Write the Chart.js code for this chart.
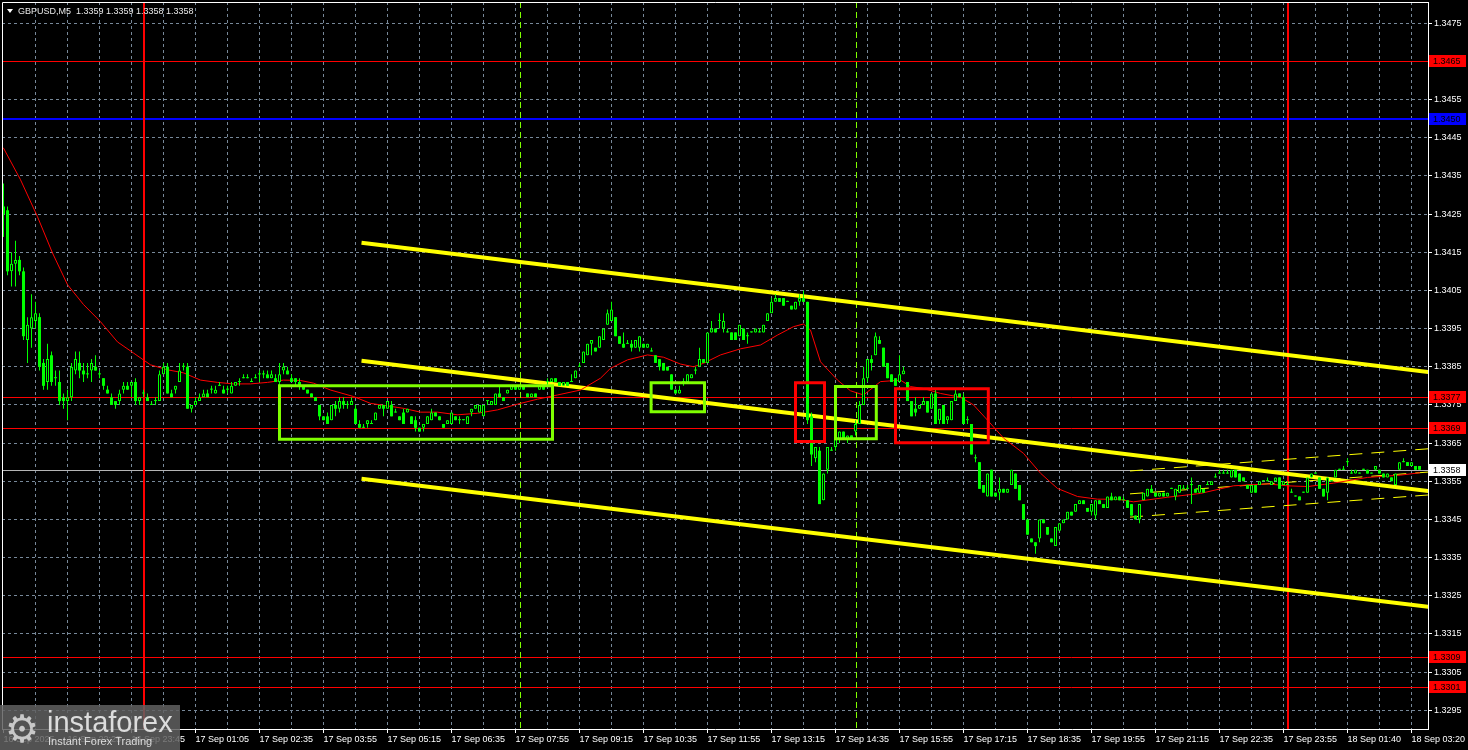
<!DOCTYPE html>
<html>
<head>
<meta charset="utf-8">
<title>GBPUSD,M5</title>
<script src="https://cdn.jsdelivr.net/npm/chart.js@4.4.1/dist/chart.umd.min.js"></script>
<style>
  html, body { margin: 0; padding: 0; background: #000; overflow: hidden; }
  #wrap { width: 1468px; height: 750px; }
</style>
</head>
<body>
<div id="wrap"><canvas id="chart" width="1468" height="750"></canvas></div>
<script>
// GBPUSD M5, 16 Sep evening to 18 Sep 03:20

// price axis labels
const yTicks = [1.3295, 1.3305, 1.3315, 1.3325, 1.3335, 1.3345, 1.3355, 1.3365, 1.3375,
  1.3385, 1.3395, 1.3405, 1.3415, 1.3425, 1.3435, 1.3445, 1.3455, 1.3465, 1.3475];

// time labels, one every 16 bars starting at bar 0
const timeLabels = ['16 Sep 2025', '16 Sep 22:25', '16 Sep 23:45', '17 Sep 01:05', '17 Sep 02:35',
  '17 Sep 03:55', '17 Sep 05:15', '17 Sep 06:35', '17 Sep 07:55', '17 Sep 09:15', '17 Sep 10:35',
  '17 Sep 11:55', '17 Sep 13:15', '17 Sep 14:35', '17 Sep 15:55', '17 Sep 17:15', '17 Sep 18:35',
  '17 Sep 19:55', '17 Sep 21:15', '17 Sep 22:35', '17 Sep 23:55', '18 Sep 01:40', '18 Sep 03:20'];

// candles [open, high, low, close] in pips above 1.3300
const pipBase = 1.33;
const pip = 0.0001;
const candles = [
  [127,133,119,125],[126,127,109,110],[110,115,106,112],[112,118,106,113],[113,114,109,110],[110,111,92,93],[92,98,86,96],[95,104,90,98],
  [97,102,95,99],[98,99,84,85],[86,87,79,80],[81,91,79,87],[88,89,80,81],[82,84,80,82],[81,84,75,76],[77,78,74,76],
  [76,79,71,77],[77,86,76,85],[84,89,83,87],[86,89,82,84],[84,86,81,83],[83,86,82,83],[84,87,81,86],[85,88,84,84],
  [83,84,82,83],[82,82,79,80],[79,80,78,78],[77,78,75,75],[76,76,74,75],[76,79,75,78],[79,81,78,80],[80,81,79,79],
  [80,81,77,81],[81,82,75,76],[76,77,75,77],[78,79,77,78],[77,78,76,76],[75,76,75,75],[76,77,75,76],[76,84,76,83],
  [83,86,83,85],[85,86,78,78],[78,79,77,77],[79,80,78,80],[81,86,81,84],[85,86,84,85],[85,86,74,74],[74,75,73,75],
  [75,77,75,76],[76,78,76,77],[77,79,77,78],[78,79,77,77],[79,80,78,79],[78,80,78,79],[80,81,80,80],[79,80,78,78],
  [79,80,78,79],[78,81,78,80],[80,81,80,81],[81,82,80,81],[82,83,82,82],[82,83,82,82],[81,82,81,81],[82,83,82,82],
  [83,84,81,83],[83,84,82,83],[83,84,82,82],[82,84,82,83],[82,83,81,81],[81,86,80,83],[84,86,83,85],[84,85,83,83],
  [82,83,81,81],[82,82,80,81],[81,82,79,80],[80,80,79,79],[79,79,78,78],[78,78,77,77],[77,77,76,76],[75,75,71,72],
  [72,72,71,71],[72,73,70,70],[71,75,71,75],[75,76,72,74],[74,77,73,76],[76,77,74,75],[75,76,74,75],[75,77,75,76],
  [74,75,70,70],[70,71,69,69],[69,70,69,69],[70,71,69,71],[70,71,70,70],[71,73,71,73],[74,75,74,75],[75,75,72,74],
  [74,76,74,76],[75,76,72,72],[73,74,73,73],[72,72,71,71],[73,74,70,70],[73,74,73,74],[72,72,70,70],[71,72,68,69],
  [69,69,68,68],[69,70,68,70],[70,72,70,72],[71,74,71,73],[73,73,72,72],[72,72,71,71],[70,70,69,69],[70,71,70,71],
  [70,73,70,73],[72,72,71,71],[71,72,70,71],[71,71,71,71],[70,72,70,72],[73,74,72,74],[74,75,74,75],[73,75,73,75],
  [72,75,72,75],[76,76,75,76],[75,76,75,76],[75,78,75,78],[78,80,77,77],[77,77,76,76],[78,79,78,79],[79,80,79,80],
  [80,80,79,79],[79,80,79,80],[80,80,79,79],[78,78,77,77],[77,78,77,78],[78,78,77,77],[79,80,79,80],[80,80,79,79],
  [81,82,80,81],[81,82,81,82],[82,82,81,81],[81,81,80,80],[80,81,80,81],[81,81,80,80],[81,83,81,81],[82,84,82,84],
  [85,86,85,85],[86,89,86,89],[88,91,88,91],[91,92,88,92],[90,90,89,89],[90,93,90,93],[92,95,92,95],[96,100,96,99],
  [97,102,97,100],[98,98,93,93],[93,93,91,91],[91,94,90,90],[91,92,91,91],[91,92,89,90],[90,92,90,92],[90,93,89,93],
  [91,91,90,90],[90,91,90,91],[89,90,89,89],[88,88,86,86],[87,87,84,85],[86,86,84,84],[85,85,84,84],[83,83,79,79],
  [79,79,78,78],[78,80,78,79],[81,82,80,81],[81,83,81,83],[82,83,82,83],[84,85,83,84],[85,90,85,87],[87,87,86,86],
  [86,94,86,94],[94,97,94,95],[95,95,94,94],[97,99,95,97],[95,99,94,97],[94,95,94,94],[94,94,92,92],[94,94,92,92],
  [93,96,93,96],[95,95,92,92],[93,94,91,93],[94,94,94,94],[94,95,94,95],[94,95,94,94],[94,96,94,96],[97,99,97,99],
  [99,103,99,102],[102,104,102,103],[103,103,102,102],[103,103,101,101],[102,102,102,102],[101,101,100,100],[100,102,100,102],[102,104,101,103],
  [103,105,102,102],[102,102,70,71],[72,73,59,62],[61,64,60,64],[63,64,49,49],[50,57,50,57],[58,64,57,64],[63,64,63,63],
  [64,66,63,66],[66,68,65,68],[68,68,66,66],[66,67,65,67],[67,67,66,66],[68,71,67,70],[70,76,70,75],[75,85,75,82],
  [82,87,81,87],[87,88,84,86],[88,94,88,93],[92,93,91,91],[90,90,85,85],[86,86,82,82],[83,83,81,81],[82,82,80,80],
  [81,88,81,83],[83,85,83,84],[81,81,76,76],[76,76,72,72],[74,77,72,73],[74,75,74,75],[75,77,75,76],[76,76,73,73],
  [74,78,74,78],[78,79,70,70],[71,74,70,74],[75,75,70,70],[71,72,70,72],[71,76,71,76],[76,79,76,78],[78,78,77,77],
  [77,78,70,70],[71,72,70,71],[70,70,62,62],[61,62,60,61],[60,60,53,53],[54,54,52,52],[51,57,51,57],[58,58,51,51],
  [52,52,51,51],[52,56,50,53],[53,53,52,52],[52,53,52,53],[54,58,54,58],[57,57,53,53],[54,54,50,50],[49,49,45,45],
  [45,45,41,41],[40,40,39,39],[39,39,36,38],[40,45,39,45],[45,45,44,44],[43,43,41,41],[40,40,39,39],[38,43,38,43],
  [42,44,42,44],[44,45,44,45],[45,47,45,47],[47,47,46,46],[47,49,47,49],[49,50,49,50],[50,50,49,49],[48,48,47,47],
  [47,49,46,49],[46,50,45,50],[50,50,49,49],[49,49,48,48],[48,51,48,51],[51,52,50,50],[50,51,50,51],[51,51,50,50],
  [50,51,50,50],[50,50,48,48],[49,49,46,46],[46,46,45,45],[45,49,44,49],[50,52,50,52],[51,53,51,53],[53,54,52,52],
  [52,52,51,51],[51,52,51,52],[52,52,51,51],[51,52,51,52],[53,53,53,53],[51,53,50,53],[52,54,52,54],[53,54,53,53],
  [53,54,53,53],[54,56,49,54],[53,53,52,52],[52,54,52,54],[53,53,52,52],[54,55,54,54],[54,55,54,55],[56,57,56,56],
  [57,58,57,57],[57,58,57,57],[57,58,57,57],[56,58,56,58],[58,58,56,56],[57,57,55,55],[56,56,55,55],[54,54,53,53],
  [52,54,52,54],[54,54,52,52],[54,55,54,55],[55,55,55,55],[55,56,55,55],[54,55,54,55],[55,56,55,56],[56,56,53,53],
  [54,55,54,55],[54,55,54,54],[52,53,52,52],[51,51,51,51],[51,51,50,50],[52,52,52,52],[52,56,52,56],[56,57,56,57],
  [57,57,57,57],[56,56,53,53],[53,53,51,51],[52,56,50,56],[55,55,55,55],[56,58,56,58],[58,58,58,58],[58,59,58,58],
  [60,61,59,60],[57,58,57,57],[57,58,57,58],[57,57,57,57],[58,58,58,58],[58,58,57,57],[57,57,57,57],[58,59,58,59],
  [58,58,57,57],[57,57,56,56],[56,57,56,57],[56,56,55,55],[54,57,54,57],[58,60,58,60],[60,61,60,60],[60,60,59,59],
  [59,60,59,60],[59,59,58,58],[59,59,58,58]
];

// moving average: [bar, pips]
const maLine = [[0,142.3],[4.25,134],[8.5,124.3],[12.25,114.8],[16,106.5],[20,101.3],[24.25,96.8],[28.5,91.5],
  [32.5,88.6],[36.75,85.5],[41,84.2],[45,83.4],[49.25,81.5],[53.5,80.9],[57.5,80.5],[61.75,80.5],[66,80.9],
  [70,81.5],[74.25,81.4],[77.5,80.7],[81.75,78.9],[87.5,77.2],[91.75,75.4],[100,74.1],[104.25,73.1],[108.5,73.1],
  [113.5,72.4],[118.5,72.8],[123.5,73.7],[128.5,75.2],[133.5,76.5],[138.5,77.6],[144.25,78.9],[149.25,82.0],
  [151.75,84.6],[156,86.8],[161,88.1],[165,87.5],[169.25,85.7],[172.5,85.0],[175,85.9],[179.25,88.1],[184.25,89.7],
  [189.25,90.7],[193.5,93.3],[197.5,95.5],[200,96.2],[201.75,94.6],[204.25,86.3],[208.5,81.5],[211.75,78.7],
  [215,77.6],[219.25,81.1],[224.25,81.5],[226.75,79.8],[230,79.3],[234.25,78.0],[239.25,77.0],[242.5,75.0],
  [246,71.0],[250,66.3],[255,62.3],[259.25,57.1],[263.5,53.1],[268.5,51.0],[273.5,50.3],[278.5,50.3],[282.5,49.6],
  [291,50.8],[299.25,51.8],[307.5,53.8],[316,54.3],[321,53.8],[326,53.6],[332.5,54.5],[341,56.0],[349.25,56.6],[354,57.2]];

// regression channel (thick) and small channel (thin), [bar, pips] end points
const channelTop = [[90,117.4],[356.2,83.6]];
const channelMid = [[90,86.5],[356.2,52.4]];
const channelBot = [[90,55.6],[356.2,22.1]];
const smallTop = [[281.75,57.7],[356.2,63.5]];
const smallMid = [[281.75,51.7],[356.2,57.4]];
const smallBot = [[281.75,45.6],[356.2,51.4]];

// signal boxes: bar range and pip range
const boxBars = [[69,137.25],[161.9,175.25],[198,205.25],[208,218.2],[223,246.2]];
const boxPips = [[80.0,66.0],[80.8,73.2],[80.8,65.4],[79.8,66.1],[79.2,65.1]];
const boxKinds = ['buy','buy','sell','buy','sell'];

// horizontal levels and markers
const levels = [1.3465, 1.3450, 1.3377, 1.3369, 1.3309, 1.3301];
const bidPrice = 1.3358;
const dayBreaks = [35, 321];
const newsBars = [129, 213];

const LIME = '#00ff00';
const toPrice = p => +(pipBase + p * pip).toFixed(5);
const toPoints = arr => arr.map(([b, p]) => ({ x: b, y: toPrice(p) }));

const Y_MAX = 1.348058;
const Y_MIN = 1.329007;
const X_MIN = -0.375;
const X_MAX = 356.125;

Chart.defaults.font.family = '"Liberation Sans", Arial, sans-serif';
Chart.defaults.font.size = 9;
Chart.defaults.color = '#ffffff';

function boxPath(k) {
  const [b0, b1] = boxBars[k];
  const [p0, p1] = boxPips[k];
  return [{x: b0, y: toPrice(p0)}, {x: b1, y: toPrice(p0)}, {x: b1, y: toPrice(p1)},
          {x: b0, y: toPrice(p1)}, {x: b0, y: toPrice(p0)}];
}

function lineSet(points, color, width, order, dash) {
  return {
    type: 'line', data: points, borderColor: color, borderWidth: width,
    borderDash: dash || [], pointRadius: 0, tension: 0, order: order, clip: 0,
    borderCapStyle: 'square', borderJoinStyle: 'miter'
  };
}

const datasets = [
  lineSet(toPoints(channelTop), '#ffff00', 4, 10),
  lineSet(toPoints(channelMid), '#ffff00', 4, 10),
  lineSet(toPoints(channelBot), '#ffff00', 4, 10),
  lineSet(toPoints(smallTop), '#ffff00', 1, 10, [12, 10]),
  lineSet(toPoints(smallMid), '#ffff00', 1, 10, [12, 10]),
  lineSet(toPoints(smallBot), '#ffff00', 1, 10, [12, 10]),
  lineSet(toPoints(maLine), '#ff0000', 1, 9),
  {
    type: 'bar', order: 8, grouped: false, barThickness: 1, minBarLength: 1,
    data: candles.map((c, i) => ({ x: i, y: [toPrice(c[2]), toPrice(c[1])] })),
    backgroundColor: LIME, borderWidth: 0, inflateAmount: 0
  },
  {
    type: 'bar', order: 7, grouped: false, barThickness: 3, minBarLength: 1,
    data: candles.map((c, i) => ({ x: i, y: [toPrice(c[0]), toPrice(c[3])] })),
    backgroundColor: candles.map(c => c[3] > c[0] ? '#000000' : LIME),
    borderColor: LIME, borderWidth: candles.map(c => c[3] > c[0] ? 1 : 0),
    borderSkipped: false, inflateAmount: 0
  }
];
boxBars.forEach((b, k) => {
  datasets.push(lineSet(boxPath(k), boxKinds[k] === 'buy' ? '#7fff00' : '#ff0000', 3, 1));
});

function hLine(ctx, a, y, color, width) {
  const yy = width % 2 ? Math.round(y) + 0.5 : Math.round(y);
  ctx.strokeStyle = color; ctx.lineWidth = width;
  ctx.beginPath(); ctx.moveTo(a.left, yy); ctx.lineTo(a.right, yy); ctx.stroke();
}

function priceTag(ctx, a, y, bg, fg, text) {
  const yy = Math.round(y);
  ctx.fillStyle = bg;
  ctx.fillRect(a.right + 1, yy - 6, 37, 12);
  ctx.fillStyle = fg;
  ctx.textAlign = 'left'; ctx.textBaseline = 'middle';
  ctx.fillText(text, a.right + 5, yy + 0.5);
}

const mtPlugin = {
  id: 'mt',
  beforeDatasetsDraw(chart) {
    const {ctx, chartArea: a, scales: {x, y}} = chart;
    ctx.save();
    ctx.beginPath(); ctx.rect(a.left, a.top, a.right - a.left, a.bottom - a.top); ctx.clip();
    hLine(ctx, a, y.getPixelForValue(bidPrice), '#b4b4b4', 1);
    levels.forEach(v => {
      const blue = v === 1.3450;
      hLine(ctx, a, y.getPixelForValue(v), blue ? '#0000ff' : '#ff0000', blue ? 2 : 1);
    });
    // news markers
    ctx.setLineDash([6, 4]);
    ctx.strokeStyle = '#7fff00'; ctx.lineWidth = 1;
    newsBars.forEach(b => {
      const xx = Math.round(x.getPixelForValue(b)) + 0.5;
      ctx.beginPath(); ctx.moveTo(xx, a.top); ctx.lineTo(xx, a.bottom); ctx.stroke();
    });
    ctx.setLineDash([]);
    // day separators
    ctx.strokeStyle = '#ff0000'; ctx.lineWidth = 2;
    dayBreaks.forEach(b => {
      const xx = Math.round(x.getPixelForValue(b));
      ctx.beginPath(); ctx.moveTo(xx, a.top); ctx.lineTo(xx, a.bottom); ctx.stroke();
    });
    ctx.restore();
  },
  afterDraw(chart) {
    const {ctx, chartArea: a, scales: {y}} = chart;
    ctx.save();
    // frame
    ctx.strokeStyle = '#ffffff'; ctx.lineWidth = 1;
    ctx.beginPath();
    ctx.moveTo(a.left + 0.5, a.bottom); ctx.lineTo(a.left + 0.5, a.top + 0.5); ctx.lineTo(a.right, a.top + 0.5);
    ctx.stroke();
    // price tags
    ctx.font = '9px "Liberation Sans", Arial, sans-serif';
    levels.forEach(v => {
      const blue = v === 1.3450;
      priceTag(ctx, a, y.getPixelForValue(v), blue ? '#0000ff' : '#ff0000', '#000000', v.toFixed(4));
    });
    priceTag(ctx, a, y.getPixelForValue(bidPrice), '#ffffff', '#000000', bidPrice.toFixed(4));
    // header
    ctx.fillStyle = '#ffffff';
    ctx.beginPath(); ctx.moveTo(7, 9); ctx.lineTo(13, 9); ctx.lineTo(10, 13); ctx.closePath(); ctx.fill();
    ctx.fillStyle = '#e8e8e8';
    ctx.textAlign = 'left'; ctx.textBaseline = 'middle';
    ctx.fillText('GBPUSD,M5  1.3359 1.3359 1.3358 1.3358', 18, 11.5);
    // watermark
    ctx.fillStyle = 'rgba(96,96,96,0.85)';
    ctx.fillRect(0, 705, 180, 45);
    ctx.fillStyle = '#c8c8c8';
    ctx.font = '38px "DejaVu Sans", sans-serif';
    ctx.textBaseline = 'alphabetic';
    ctx.fillText('\u2699', 5, 742);
    ctx.fillStyle = '#dcdcdc';
    ctx.font = '29px "Liberation Sans", Arial, sans-serif';
    ctx.fillText('instaforex', 47, 732);
    ctx.font = '11px "Liberation Sans", Arial, sans-serif';
    ctx.fillText('Instant Forex Trading', 48, 745);
    ctx.restore();
  }
};

new Chart(document.getElementById('chart'), {
  type: 'bar',
  data: { datasets: datasets },
  plugins: [mtPlugin],
  options: {
    responsive: false,
    animation: false,
    devicePixelRatio: 1,
    layout: { padding: { left: 2, top: 2, right: 0, bottom: 0 } },
    plugins: { legend: { display: false }, tooltip: { enabled: false } },
    scales: {
      x: {
        type: 'linear', min: X_MIN, max: X_MAX, offset: false,
        afterBuildTicks: s => {
          const t = [];
          for (let b = 0; b <= 352; b += 8) t.push({ value: b });
          s.ticks = t;
        },
        afterFit: s => { s.height = 21; s.paddingLeft = 0; s.paddingRight = 0; },
        grid: {
          offset: false, lineWidth: 1, tickLength: 4,
          color: c => (c.tick && c.tick.value === 0) ? 'rgba(0,0,0,0)' : '#778899',
          tickColor: c => (c.tick && c.tick.value % 16 === 0) ? '#ffffff' : 'rgba(0,0,0,0)'
        },
        border: { color: '#ffffff', dash: [3, 3] },
        ticks: {
          autoSkip: false, maxRotation: 0, minRotation: 0, align: 'start', padding: 1, color: '#ffffff',
          callback: v => (v % 16 === 0) ? timeLabels[v / 16] : ''
        }
      },
      y: {
        type: 'linear', position: 'right', min: Y_MIN, max: Y_MAX,
        afterBuildTicks: s => { s.ticks = yTicks.map(v => ({ value: v })); },
        afterFit: s => { s.width = 40; s.paddingTop = 0; s.paddingBottom = 0; },
        grid: { color: '#778899', lineWidth: 1, tickLength: 4, tickColor: '#ffffff' },
        border: { color: '#ffffff', dash: [3, 3] },
        ticks: { padding: 2, color: '#ffffff', callback: v => v.toFixed(4) }
      }
    }
  }
});
</script>
</body>
</html>
